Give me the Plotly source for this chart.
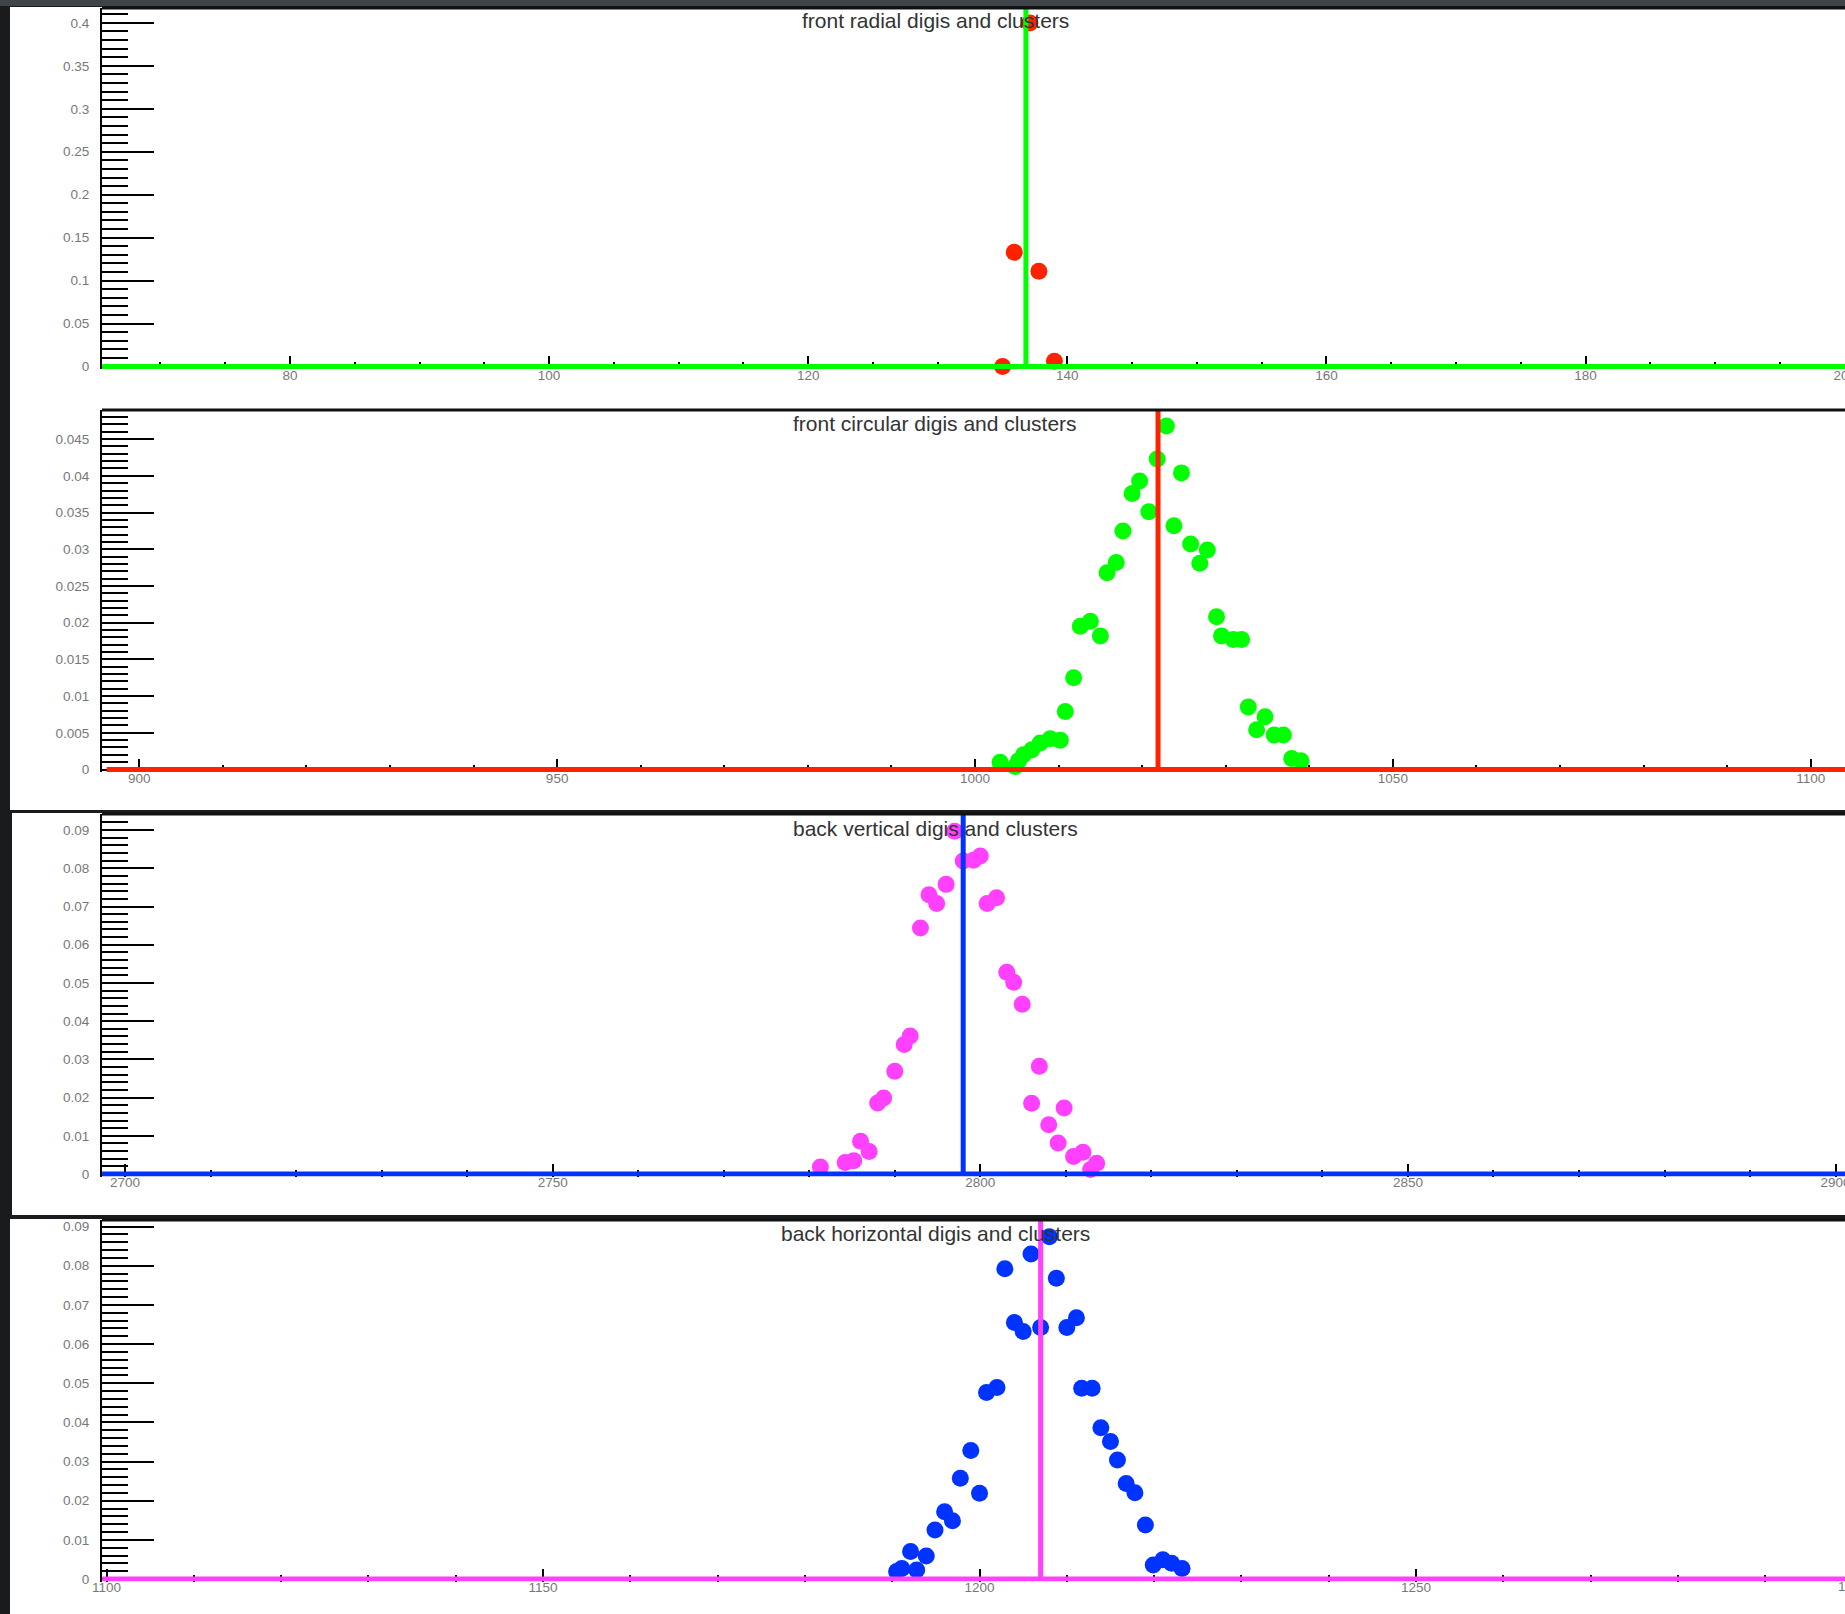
import plotly.graph_objects as go

# ---------------------------------------------------------------------------
# Data: normalised digi distributions (markers) and reconstructed cluster
# positions (histogram spikes) for the four detector planes.
# ---------------------------------------------------------------------------

# front radial
fr_digi_x = [135.0, 135.9, 137.1, 137.8, 139.0]
fr_digi_y = [0.0, 0.133, 0.400, 0.111, 0.006]
fr_cluster_x = [136.8]
fr_cluster_y = [1.0]
fr_hist_range = [65.5, 210.0]

# front circular
fc_digi_x = [1003.0, 1004.8, 1005.2, 1005.8, 1006.8, 1007.8, 1009.0, 1010.2,
             1010.8, 1011.8, 1012.6, 1013.8, 1015.0, 1015.8, 1016.9, 1017.7,
             1018.8, 1019.7, 1020.8, 1021.8, 1022.9, 1023.8, 1024.7, 1025.8,
             1026.9, 1027.8, 1028.9, 1029.5, 1030.9, 1031.9, 1032.7, 1033.7,
             1034.7, 1035.8, 1036.9, 1037.9, 1039.0]
fc_digi_y = [0.0010, 0.0004, 0.0012, 0.0020, 0.0027, 0.0036, 0.0042, 0.0040,
             0.0079, 0.0125, 0.0195, 0.0202, 0.0182, 0.0268, 0.0282, 0.0325,
             0.0376, 0.0393, 0.0351, 0.0423, 0.0468, 0.0332, 0.0404, 0.0307,
             0.0281, 0.0299, 0.0208, 0.0182, 0.0177, 0.0177, 0.0085, 0.0054,
             0.0072, 0.0047, 0.0047, 0.0015, 0.0012]
fc_cluster_x = [1021.9]
fc_cluster_y = [1.0]
fc_hist_range = [896.1, 1110.0]

# back vertical
bv_digi_x = [2781.3, 2784.2, 2785.2, 2786.0, 2787.0, 2788.0, 2788.7, 2790.0,
             2791.1, 2791.8, 2793.0, 2794.0, 2794.9, 2796.0, 2797.0, 2798.0,
             2799.2, 2800.0, 2800.8, 2801.9, 2803.1, 2803.9, 2804.9, 2806.0,
             2806.9, 2808.0, 2809.1, 2809.8, 2810.9, 2812.0, 2812.9, 2813.6]
bv_digi_y = [0.0018, 0.0030, 0.0035, 0.0086, 0.0059, 0.0186, 0.0199, 0.0269,
             0.0339, 0.0361, 0.0644, 0.0731, 0.0708, 0.0758, 0.0897, 0.0819,
             0.0821, 0.0832, 0.0708, 0.0723, 0.0528, 0.0502, 0.0444, 0.0185,
             0.0282, 0.0129, 0.0081, 0.0173, 0.0046, 0.0057, 0.0012, 0.0028]
bv_cluster_x = [2798.0]
bv_cluster_y = [1.0]
bv_hist_range = [2697.3, 2910.0]

# back horizontal
bh_digi_x = [1190.5, 1191.1, 1192.1, 1192.8, 1193.9, 1194.9, 1196.0, 1196.9,
             1197.8, 1199.0, 1200.0, 1200.8, 1202.0, 1202.9, 1204.0, 1205.0,
             1205.9, 1207.0, 1208.0, 1208.8, 1210.0, 1211.1, 1211.7, 1212.9,
             1213.9, 1215.0, 1215.8, 1216.8, 1217.8, 1219.0, 1219.9, 1221.0,
             1222.0, 1223.2]
bh_digi_y = [0.0019, 0.0027, 0.0070, 0.0023, 0.0059, 0.0125, 0.0172, 0.0149,
             0.0257, 0.0328, 0.0219, 0.0476, 0.0489, 0.0792, 0.0655, 0.0632,
             0.0830, 0.0642, 0.0874, 0.0768, 0.0642, 0.0667, 0.0487, 0.0487,
             0.0386, 0.0351, 0.0304, 0.0244, 0.0220, 0.0138, 0.0036, 0.0049,
             0.0040, 0.0027]
bh_cluster_x = [1207.0]
bh_cluster_y = [1.0]
bh_hist_range = [1099.5, 1310.0]

titles = ["front radial digis and clusters",
          "front circular digis and clusters",
          "back vertical digis and clusters",
          "back horizontal digis and clusters"]

digi_colors = ["#ff2200", "#00ff00", "#ff40ff", "#0033ff"]
cluster_colors = ["#00ff00", "#ff2200", "#0033ff", "#ff40ff"]

x_ticks_major = [20, 50, 50, 50]
x_ticks_minor = [5, 10, 10, 10]
y_ticks_major = [0.05, 0.005, 0.01, 0.01]
y_ticks_minor = [0.01, 0.001, 0.002, 0.002]

# ---------------------------------------------------------------------------
# Page geometry (pixels) for the four stacked pads
# ---------------------------------------------------------------------------
W, H = 1845, 1614
FRAME_LEFT = 102
pad_geom = [
    # top of frame, y=0 line, x range, y range top
    dict(top=8, zero=366.5, xr=[65.49, 200.02], ytop=0.41735, title_y=20.5),
    dict(top=410, zero=769.5, xr=[895.54, 1104.1], ytop=0.048965, title_y=423),
    dict(top=814, zero=1174, xr=[2697.31, 2901.1], ytop=0.094216, title_y=828),
    dict(top=1220, zero=1579, xr=[1099.48, 1299.14], ytop=0.091675, title_y=1233),
]
BASE_PAD = 2.5  # room below y=0 so the histogram baseline is not clipped

digis = [(fr_digi_x, fr_digi_y), (fc_digi_x, fc_digi_y),
         (bv_digi_x, bv_digi_y), (bh_digi_x, bh_digi_y)]
clusters = [(fr_cluster_x, fr_cluster_y, fr_hist_range),
            (fc_cluster_x, fc_cluster_y, fc_hist_range),
            (bv_cluster_x, bv_cluster_y, bv_hist_range),
            (bh_cluster_x, bh_cluster_y, bh_hist_range)]


def hist_outline(cx, cy, rng):
    """Step outline of a cluster histogram: flat at zero with a spike per cluster."""
    xs, ys = [rng[0]], [0.0]
    for x, y in sorted(zip(cx, cy)):
        xs += [x, x, x]
        ys += [0.0, y, 0.0]
    xs.append(rng[1])
    ys.append(0.0)
    return xs, ys


def px_to_paper_y(py):
    return 1 - py / H


fig = go.Figure()
layout = dict(
    width=W, height=H,
    margin=dict(l=0, r=0, t=0, b=0, pad=0, autoexpand=False),
    paper_bgcolor="#1a1b1c",
    plot_bgcolor="white",
    showlegend=False,
    font=dict(family="Liberation Sans, Arial, sans-serif"),
)

shapes = [
    # slide background strip and white pads
    dict(type="rect", xref="paper", yref="paper", x0=0, x1=1,
         y0=px_to_paper_y(6), y1=1, fillcolor="#3f4448", line_width=0, layer="below"),
    dict(type="rect", xref="paper", yref="paper", x0=10 / W, x1=1,
         y0=px_to_paper_y(810), y1=px_to_paper_y(7), fillcolor="white",
         line_width=0, layer="below"),
    dict(type="rect", xref="paper", yref="paper", x0=12 / W, x1=1,
         y0=px_to_paper_y(1215), y1=px_to_paper_y(813), fillcolor="white",
         line_width=0, layer="below"),
    dict(type="rect", xref="paper", yref="paper", x0=10 / W, x1=1,
         y0=0, y1=px_to_paper_y(1219), fillcolor="white",
         line_width=0, layer="below"),
]
annotations = []
tick_font = dict(family="Liberation Sans, Arial, sans-serif", size=13.5, color="#777777")

for i in range(4):
    g = pad_geom[i]
    n = "" if i == 0 else str(i + 1)
    xa, ya = "x" + n, "y" + n
    ypad = g["ytop"] * BASE_PAD / (g["zero"] - g["top"])

    layout["xaxis" + n] = dict(
        domain=[FRAME_LEFT / W, 1], anchor=ya, range=g["xr"],
        showgrid=False, zeroline=False, showline=False, automargin=False,
        ticks="inside", ticklen=13, tickwidth=2, tickcolor="black",
        tickmode="linear", tick0=0, dtick=x_ticks_major[i],
        minor=dict(ticks="inside", ticklen=7, tickwidth=2, tickcolor="black",
                   tick0=0, dtick=x_ticks_minor[i], showgrid=False),
        tickfont=tick_font, ticklabelstandoff=-4, ticklabeloverflow="allow",
        layer="below traces",
    )
    layout["yaxis" + n] = dict(
        domain=[px_to_paper_y(g["zero"] + BASE_PAD), px_to_paper_y(g["top"])],
        anchor=xa, range=[-ypad, g["ytop"]], automargin=False,
        showgrid=False, zeroline=False,
        showline=True, linecolor="black", linewidth=2,
        ticks="inside", ticklen=52, tickwidth=2, tickcolor="black",
        tickmode="linear", tick0=0, dtick=y_ticks_major[i],
        minor=dict(ticks="inside", ticklen=26, tickwidth=2, tickcolor="black",
                   tick0=0, dtick=y_ticks_minor[i], showgrid=False),
        tickfont=tick_font, ticklabelstandoff=8, layer="below traces",
    )

    # top edge of the frame
    shapes.append(dict(type="line", xref=xa + " domain", yref=ya + " domain",
                       x0=0, x1=1, y0=1, y1=1,
                       line=dict(color="#111111", width=3), layer="above"))

    dx, dy = digis[i]
    fig.add_trace(go.Scatter(
        x=dx, y=dy, xaxis=xa, yaxis=ya, mode="markers",
        marker=dict(symbol="circle", size=17, color=digi_colors[i], line_width=0),
        cliponaxis=False, hoverinfo="x+y",
    ))
    cx, cy, rng = clusters[i]
    hx, hy = hist_outline(cx, cy, rng)
    fig.add_trace(go.Scatter(
        x=hx, y=hy, xaxis=xa, yaxis=ya, mode="lines",
        line=dict(color=cluster_colors[i], width=5, shape="linear"),
        hoverinfo="x+y",
    ))

    annotations.append(dict(
        text=titles[i], xref="paper", yref="paper",
        x=935 / W, y=px_to_paper_y(g["title_y"]),
        xanchor="center", yanchor="middle", showarrow=False,
        font=dict(family="Liberation Sans, Arial, sans-serif", size=21, color="#333333"),
    ))

# label of the 1300 tick, which sits just past the right edge of the last pad
annotations.append(dict(
    text="1300", xref="paper", yref="paper",
    x=1852.5 / W, y=px_to_paper_y(1586),
    xanchor="center", yanchor="middle", showarrow=False, font=tick_font,
))

layout["shapes"] = shapes
layout["annotations"] = annotations
fig.update_layout(**layout)
fig.write_html("out.html")
